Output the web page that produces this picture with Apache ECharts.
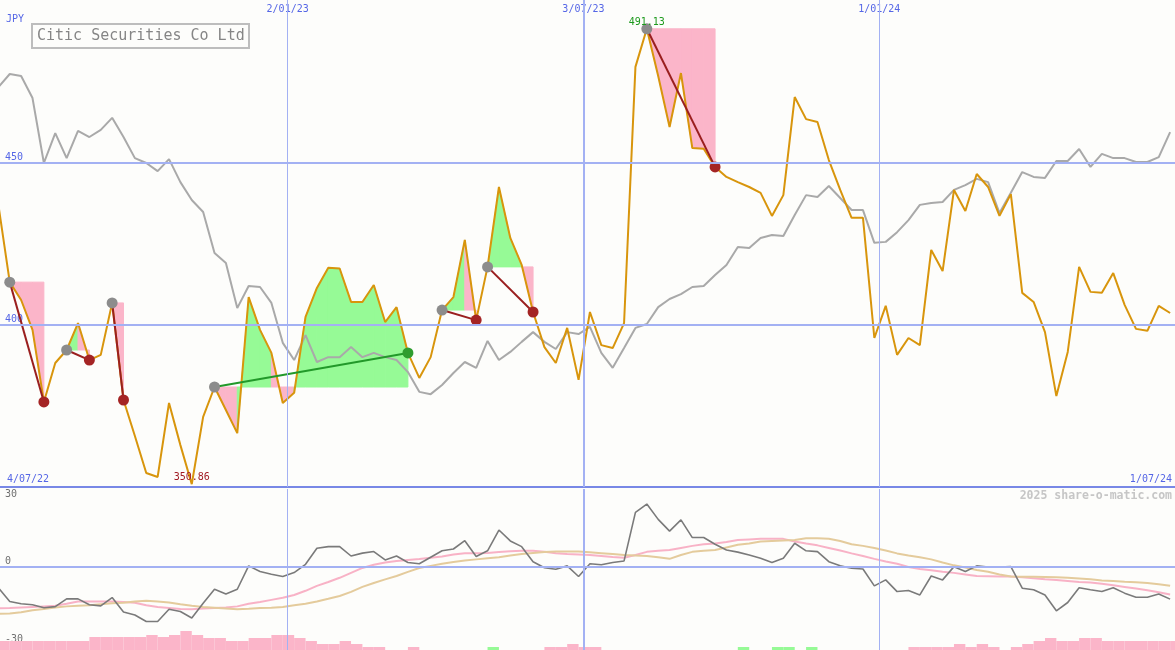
<!DOCTYPE html>
<html><head><meta charset="utf-8">
<script src="https://cdn.jsdelivr.net/npm/echarts@6/dist/echarts.min.js"></script>
<style>html,body{margin:0;padding:0;background:#fdfdfb}#c{width:1175px;height:650px}</style>
</head><body><div id="c"></div>
<script>
// ---- data ----
const firstWeek = '2022-07-08';      // first weekly close (Friday)
const axisStart = '2022-07-09';
const axisEnd = '2024-07-01';
const edgeLabels = ['4/07/22', '1/07/24'];
const dateLines = ['2023-01-02', '2023-07-03', '2024-01-01'];
const priceTicks = [400, 450];
const indTicksLow = [0, -30];
const indTicksHigh = [30];
const title = 'Citic Securities Co Ltd';
const currency = 'JPY';
const credit = '2025 share-o-matic.com';

const price = [436.9,413.1,407.6,398.4,376.2,388.2,392.2,400.5,389.1,390.7,
406.7,376.8,365.7,354.3,353.1,375.9,362.9,350.86,371.6,380.8,
373.7,366.6,408.5,398.4,391.3,375.9,379.0,402.4,411.3,417.5,
417.3,407.0,407.0,412.2,400.8,405.4,391.3,383.6,390.0,404.5,
408.5,426.1,401.4,417.8,442.4,426.7,418.4,403.9,393.1,388.2,
399.0,383.0,403.9,393.7,392.8,400.5,479.4,491.13,476.6,460.9,
477.5,454.4,454.2,448.6,445.5,443.9,442.4,440.6,433.5,439.9,
470.1,463.3,462.4,450.7,441.5,432.9,432.9,395.9,405.8,390.7,
395.9,393.7,423.0,416.5,441.5,435.0,446.4,442.4,433.5,440.2,
409.8,407.0,397.7,378.0,391.6,417.8,410.1,409.8,415.9,406.1,
398.7,398.1,405.8,403.6];

const relative = [473.2,477.2,476.6,469.8,449.8,459.0,451.3,459.7,457.8,460.0,
463.7,457.8,451.3,449.8,447.3,451.0,443.9,438.4,434.7,422.1,
419.0,405.1,411.9,411.6,406.7,394.4,389.1,396.8,388.5,390.0,
390.0,393.1,390.0,391.3,390.0,389.1,385.4,379.3,378.6,381.4,
385.1,388.5,386.7,395.0,389.1,391.6,394.7,397.7,394.7,392.5,
397.7,397.1,399.3,391.3,386.7,392.8,399.0,400.2,405.4,407.9,
409.4,411.6,411.9,415.3,418.4,423.9,423.6,426.7,427.6,427.3,
433.8,439.9,439.3,442.7,439.0,435.3,435.3,425.2,425.5,428.5,
432.2,436.9,437.5,437.8,441.5,443.0,444.9,443.9,434.4,440.6,
447.0,445.5,445.2,450.4,450.4,454.1,448.6,452.6,451.3,451.3,
450.1,450.1,451.6,459.3];

const momentum = [-8.1,-13.3,-14.2,-14.6,-15.7,-15.3,-12.3,-12.3,-14.6,-15.0,
-11.8,-17.4,-18.5,-21.0,-21.0,-16.3,-17.2,-19.7,-14.0,-8.6,
-10.4,-8.6,0.4,-1.8,-2.8,-3.7,-2.2,1.0,7.2,7.8,
7.8,4.2,5.3,5.9,2.7,4.2,1.7,1.2,3.7,6.2,
6.9,10.1,4.0,6.2,14.2,10.0,7.8,2.0,-0.3,-0.9,
0.4,-3.7,1.2,0.8,1.7,2.3,21.0,24.2,18.3,13.8,
18.1,11.3,11.3,8.7,6.5,5.7,4.6,3.3,1.7,3.3,
9.1,6.2,5.9,2.0,0.4,-0.5,-0.8,-7.3,-5.0,-9.5,
-9.1,-10.8,-3.5,-5.0,0.1,-1.8,0.4,-0.1,-0.1,0.1,
-8.2,-8.8,-10.8,-16.9,-13.7,-8.0,-8.8,-9.5,-8.0,-10.1,
-11.7,-11.7,-10.4,-12.4];

const maFast = [-15.9,-15.8,-15.6,-15.4,-15.2,-15.0,-14.2,-13.3,-13.3,-13.3,
-13.3,-13.5,-13.8,-14.8,-15.4,-15.8,-16.2,-16.3,-16.0,-15.8,
-15.6,-15.2,-14.2,-13.5,-12.7,-11.9,-10.8,-9.2,-7.3,-5.8,
-4.2,-2.3,-0.4,0.8,1.7,2.3,2.7,3.0,3.5,4.0,
4.8,5.3,5.3,5.4,5.7,6.0,6.2,6.2,5.8,5.3,
5.0,4.8,4.6,4.2,3.8,3.5,4.6,5.8,6.2,6.5,
7.3,8.1,8.7,9.0,9.6,10.4,10.6,10.8,10.8,10.8,
9.8,9.0,8.3,7.3,6.3,5.2,4.2,3.1,2.1,1.2,
0.0,-0.8,-1.3,-1.9,-2.3,-2.9,-3.5,-3.6,-3.7,-3.7,
-4.0,-4.4,-4.8,-5.0,-5.4,-5.8,-6.0,-6.5,-7.1,-7.7,
-8.3,-9.0,-9.8,-10.6];

const maSlow = [-18.1,-17.9,-17.5,-16.7,-16.2,-15.6,-15.2,-15.0,-14.8,-14.4,
-14.0,-13.8,-13.3,-13.0,-13.3,-13.7,-14.4,-15.0,-15.4,-15.7,
-16.0,-16.3,-16.1,-15.8,-15.7,-15.4,-14.8,-14.2,-13.3,-12.3,
-11.2,-9.6,-7.7,-6.2,-4.8,-3.5,-1.9,-0.4,0.4,1.2,
1.9,2.5,2.9,3.3,3.7,4.4,5.0,5.4,5.7,5.9,
5.9,5.9,5.6,5.3,5.0,4.6,4.4,4.2,3.7,3.1,
4.6,5.8,6.2,6.5,7.5,8.5,9.0,9.8,10.0,10.2,
10.4,11.0,11.0,10.8,10.0,8.7,8.1,7.3,6.3,5.2,
4.4,3.7,2.9,1.7,0.6,-0.2,-1.2,-1.9,-2.9,-3.7,
-3.8,-3.8,-3.9,-4.0,-4.2,-4.5,-4.8,-5.2,-5.4,-5.7,
-5.9,-6.2,-6.7,-7.3];

const histogram = [-9,-9,-9,-9,-9,-9,-9,-9,-13,-13,
-13,-13,-13,-15,-13,-15,-19,-15,-12,-12,
-9,-9,-12,-12,-15,-15,-12,-9,-6,-6,
-9,-6,-3,-3,0,0,-3,0,0,0,
0,0,0,3,0,0,0,0,-3,-3,
-6,-3,-3,0,0,0,0,0,0,0,
0,0,0,0,0,3,0,0,3,3,
0,3,0,0,0,0,0,0,0,0,
-3,-3,-3,-3,-6,-3,-6,-3,0,-3,
-6,-9,-12,-9,-9,-12,-12,-9,-9,-9,
-9,-9,-9,-9];

// trades: [start week index, end week index]
const trades = [[1,4],[6,8],[10,11],[19,36],[39,42],[43,47],[57,63]];

// ---- build ----
const DAY = 86400000;
const ms = s => Date.parse(s + 'T00:00:00Z');
const t0 = ms(firstWeek);
const weeks = price.map((_, i) => t0 + i * 7 * DAY);
const xMin = ms(axisStart), xMax = ms(axisEnd);
const pair = arr => arr.map((v, i) => [weeks[i], v]);
const font = "'DejaVu Sans Mono', monospace";
const BLUE_TXT = '#5566e6', GRID = '#a3b1f3';
const PINK = '#fbb5c9', GREEN = '#96fa96';
const dateLineWidths = [1, 2, 1];
const fmtDate = v => { const d = new Date(v); return d.getUTCDate() + '/' + String(d.getUTCMonth() + 1).padStart(2, '0') + '/' + String(d.getUTCFullYear()).slice(2); };

const fillSegs = [];
trades.forEach(([s, e]) => {
  const L = price[s];
  for (let i = s; i < e; i++) fillSegs.push([weeks[i], price[i], weeks[i + 1], price[i + 1], L, price[i + 1] >= L ? 1 : 0]);
});

const vLines = dateLines.map((d, k) => ({ xAxis: ms(d), lineStyle: { width: dateLineWidths[k], color: GRID, type: 'solid' } }));

const tradeSeries = trades.map(([s, e]) => {
  const gain = price[e] >= price[s];
  return {
    type: 'line', xAxisIndex: 0, yAxisIndex: 0, z: 4, silent: true,
    symbol: 'circle', symbolSize: 11, showSymbol: true,
    lineStyle: { color: gain ? '#22992a' : '#9a1f1f', width: 2 },
    data: [
      { value: [weeks[s], price[s]], itemStyle: { color: '#8c8c8c' } },
      { value: [weeks[e], price[e]], itemStyle: { color: gain ? '#2f9d2f' : '#a42424' } }
    ]
  };
});

const hiddenX = (g) => ({ type: 'value', gridIndex: g, min: xMin, max: xMax, show: false });

const chart = echarts.init(document.getElementById('c'));
chart.setOption({
  animation: false,
  backgroundColor: '#fdfdfb',
  title: [
    { text: title, left: 32, top: 24, padding: [4, 5, 4, 5], borderColor: '#bdbdbd', borderWidth: 2,
      textStyle: { fontFamily: font, fontSize: 15, fontWeight: 'normal', color: '#858585', lineHeight: 16 } },
    { text: currency, left: 6, top: 14, padding: 0, textStyle: { fontFamily: font, fontSize: 10, fontWeight: 'normal', color: BLUE_TXT } },
    { text: credit, right: 3, top: 490, padding: 0, textStyle: { fontFamily: font, fontSize: 11.5, fontWeight: 'bold', color: '#c6c6c6' } }
  ],
  grid: [
    { left: 0, right: 0, top: 0, height: 487 },
    { left: 0, right: 0, top: 489, height: 161 },
    { left: 0, right: 0, top: 620, height: 30 }
  ],
  xAxis: [
    { type: 'value', gridIndex: 0, min: xMin, max: xMax, position: 'bottom',
      axisLine: { show: true, onZero: false, lineStyle: { color: '#7888e6', width: 2 } }, axisTick: { show: false }, splitLine: { show: false },
      axisLabel: { inside: true, customValues: [xMin, xMax], showMinLabel: true, showMaxLabel: true,
        alignMinLabel: 'left', alignMaxLabel: 'right', margin: 3, padding: [0, 3, 0, 7],
        formatter: v => edgeLabels[v < (xMin + xMax) / 2 ? 0 : 1], color: BLUE_TXT, fontFamily: font, fontSize: 10 } },
    { type: 'value', gridIndex: 0, min: xMin, max: xMax, position: 'top',
      axisLine: { show: false }, axisTick: { show: false }, splitLine: { show: false },
      axisLabel: { inside: true, customValues: dateLines.map(ms), margin: 4, formatter: fmtDate,
        color: BLUE_TXT, fontFamily: font, fontSize: 10 } },
    hiddenX(1),
    hiddenX(2)
  ],
  yAxis: [
    { type: 'value', gridIndex: 0, min: 350, max: 500, position: 'left', axisLine: { show: false }, axisTick: { show: false }, splitLine: { show: false },
      axisLabel: { inside: true, customValues: priceTicks, verticalAlign: 'bottom', margin: 5, color: BLUE_TXT, fontFamily: font, fontSize: 10 } },
    { type: 'value', gridIndex: 1, min: -32, max: 30, position: 'left', axisLine: { show: false }, axisTick: { show: false }, splitLine: { show: false },
      axisLabel: { inside: true, customValues: indTicksLow, verticalAlign: 'bottom', margin: 5, color: '#707070', fontFamily: font, fontSize: 10 } },
    { type: 'value', gridIndex: 1, min: -32, max: 30, position: 'left', offset: 0, axisLine: { show: false }, axisTick: { show: false }, splitLine: { show: false },
      axisLabel: { inside: true, customValues: indTicksHigh, verticalAlign: 'top', margin: 5, color: '#707070', fontFamily: font, fontSize: 10 } },
    { type: 'value', gridIndex: 2, min: 0, max: 30, show: false }
  ],
  series: [
    { type: 'custom', xAxisIndex: 0, yAxisIndex: 0, z: 1, silent: true, clip: true,
      data: fillSegs, encode: { x: [0, 2], y: [1, 3, 4] },
      renderItem: (params, api) => {
        const a = api.coord([api.value(0), api.value(4)]);
        const b = api.coord([api.value(0), api.value(1)]);
        const c = api.coord([api.value(2), api.value(3)]);
        const d = api.coord([api.value(2), api.value(4)]);
        const col = api.value(5) ? GREEN : PINK;
        return { type: 'polygon', shape: { points: [a, b, c, d] }, style: { fill: col, stroke: col, lineWidth: 1 } };
      } },
    { type: 'line', xAxisIndex: 0, yAxisIndex: 0, z: 2, silent: true, symbol: 'none',
      data: pair(relative), lineStyle: { color: '#a9a9a9', width: 2 },
      markLine: { silent: true, symbol: ['none', 'none'], label: { show: false },
        data: [ ...priceTicks.map(v => ({ yAxis: v, lineStyle: { width: 2, color: GRID, type: 'solid' } })), ...vLines ] } },
    { type: 'line', xAxisIndex: 0, yAxisIndex: 0, z: 3, silent: true, symbol: 'none',
      data: pair(price), lineStyle: { color: '#d8950c', width: 2 },
      markPoint: { symbol: 'circle', symbolSize: 1, itemStyle: { color: 'rgba(0,0,0,0)' },
        label: { show: true, position: 'top', distance: 1, fontFamily: font, fontSize: 10 },
        data: [ { type: 'min', label: { color: '#a11c24' } }, { type: 'max', label: { color: '#1d9a1d' } } ] } },
    ...tradeSeries,
    { type: 'line', xAxisIndex: 2, yAxisIndex: 1, z: 2, silent: true, symbol: 'none',
      data: pair(maFast), lineStyle: { color: '#f8b2c6', width: 2 } },
    { type: 'line', xAxisIndex: 2, yAxisIndex: 1, z: 2, silent: true, symbol: 'none',
      data: pair(maSlow), lineStyle: { color: '#e4cb9c', width: 2 } },
    { type: 'line', xAxisIndex: 2, yAxisIndex: 1, z: 3, silent: true, symbol: 'none',
      data: pair(momentum), lineStyle: { color: '#7a7a7a', width: 1.6 },
      markLine: { silent: true, symbol: ['none', 'none'], label: { show: false },
        data: [ { yAxis: 0, lineStyle: { width: 2, color: GRID, type: 'solid' } }, ...vLines ] } },
    { type: 'bar', xAxisIndex: 3, yAxisIndex: 3, z: 1, silent: true, barWidth: 11.4,
      data: histogram.map((v, i) => ({ value: [weeks[i] + 3.5 * DAY, Math.abs(v)], itemStyle: { color: v > 0 ? GREEN : PINK } })) }
  ]
});
</script>
</body></html>
